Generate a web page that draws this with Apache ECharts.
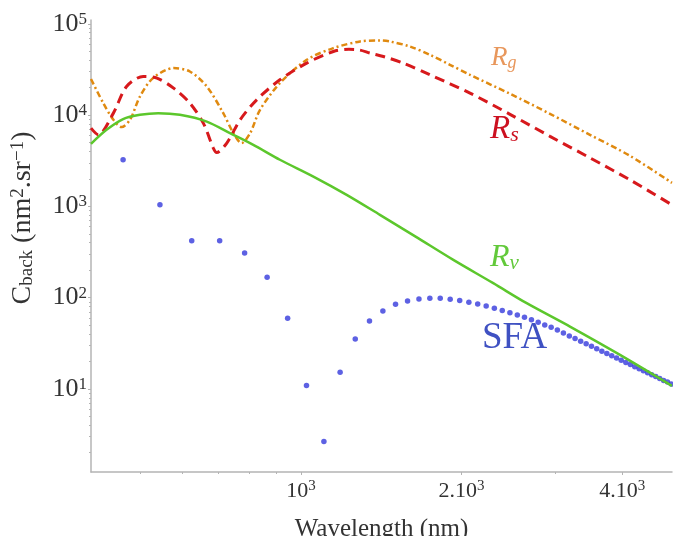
<!DOCTYPE html>
<html>
<head>
	<meta charset="utf-8">
	<title></title>
	<script src="https://cdn.jsdelivr.net/npm/echarts@6/dist/echarts.min.js"></script>
</head>

<body style="margin: 0;">
	<div id="main" style="width: 673px; height: 536px;"></div>
	<script>

		// wavelength (nm) / backscattering cross-section
		var rgWavelength = [404, 426, 445, 461, 478, 499, 528, 577, 619, 666, 715, 747, 774, 803, 838, 913, 1025, 1150, 1290, 1406, 1468, 1601, 1745, 1902, 2074, 2465, 2929, 3481, 4137, 4959]
		var rgValue      = [24800, 13520, 8870, 7380, 8870, 15960, 25400, 32700, 30000, 20560, 10500, 6340, 4930, 6340, 11420, 22390, 40320, 54200, 63970, 65600, 63970, 56360, 45710, 35560, 27600, 17100, 10320, 6076, 3576, 1809]

		var rsWavelength = [404, 417, 445, 471, 506, 537, 577, 619, 656, 685, 695, 726, 769, 826, 913, 1025, 1150, 1230, 1290, 1347, 1427, 1555, 1745, 2074, 2465, 2929, 3481, 4137, 4959]
		var rsValue      = [7200, 6080, 10500, 20560, 26470, 25400, 19720, 13520, 8170, 4345, 3890, 4930, 8870, 14690, 24320, 37070, 49730, 52500, 51500, 47760, 43850, 37070, 27600, 17400, 10190, 5850, 3401, 1950, 1039]

		var rvWavelength = [404, 432, 464, 499, 540, 593, 666, 736, 814, 913, 1055, 1218, 1406, 1643, 1930, 2293, 2649, 3193, 3963, 4959]
		var rvValue      = [4840, 6890, 9040, 10070, 10500, 10070, 8490, 6340, 4720, 3240, 2120, 1337, 807, 463, 259, 144, 86.9, 48.2, 23.6, 10.8]

		var sfaWavelength = [464, 544, 624, 704, 784, 864, 944, 1024, 1104, 1184, 1264, 1344, 1424, 1504, 1584, 1664, 1744, 1824, 1904, 1984,
		                     2064, 2144, 2224, 2304, 2384, 2464, 2544, 2624, 2704, 2784, 2864, 2944, 3024, 3104, 3184, 3264, 3344, 3424, 3504, 3584,
		                     3664, 3744, 3824, 3904, 3984, 4064, 4144, 4224, 4304, 4384, 4464, 4544, 4624, 4704, 4784, 4864, 4944]
		var sfaValue      = [3240, 1038, 419, 419, 309, 167, 59.6, 10.9, 2.65, 15.2, 35.3, 55.6, 71.6, 84.8, 92.0, 96.8, 98.6, 98.6, 96.1, 92.8,
		                     89.1, 85.4, 81.2, 76.6, 72.1, 68.5, 64.7, 61.1, 57.1, 53.8, 50.3, 47.4, 44.3, 40.9, 38.1, 35.6, 33.3, 31.2, 29.3, 27.5,
		                     25.9, 24.4, 23.1, 21.8, 20.6, 19.5, 18.5, 17.5, 16.6, 15.8, 15.0, 14.3, 13.7, 13.0, 12.4, 11.9, 11.3]

		// ticks
		var xMajorTicks = [1000, 2000, 4000]
		var xTickLabels = ['{b|10}{e|3}', '{b|2.10}{e|3}', '{b|4.10}{e|3}']
		var xMinorTicks = [500, 600, 700, 800, 900, 3000]
		var yMajorTicks = [10, 100, 1000, 10000, 100000]
		var yTickLabels = ['{b|10}{e|1}', '{b|10}{e|2}', '{b|10}{e|3}', '{b|10}{e|4}', '{b|10}{e|5}']
		var yMinorTicks = [2, 3, 4, 5, 6, 7, 8, 9,
		                   20, 30, 40, 50, 60, 70, 80, 90,
		                   200, 300, 400, 500, 600, 700, 800, 900,
		                   2000, 3000, 4000, 5000, 6000, 7000, 8000, 9000,
		                   20000, 30000, 40000, 50000, 60000, 70000, 80000, 90000]

		var xMin = 404, xMax = 4960
		var yMin = 1.23, yMax = 110000

		function zip(a, b) {
			return a.map(function (v, i) { return [v, b[i]] })
		}

		function pickLabel(ticks, labels, v) {
			var best = 0
			for (var i = 0; i < ticks.length; i++) {
				if (Math.abs(Math.log(ticks[i] / v)) < Math.abs(Math.log(ticks[best] / v))) best = i
			}
			return labels[best]
		}

		var serif = '"Liberation Serif", "DejaVu Serif", serif'
		var axisGray = '#b4b4b4'

		var mCharts = echarts.init(document.getElementById('main'))

		var opt = {
			animation: false,
			grid: { left: 91, right: 1, top: 20, bottom: 64, containLabel: false, outerBoundsMode: 'none' },
			xAxis: [
				{
					type: 'log', min: xMin, max: xMax, position: 'bottom',
					name: 'Wavelength (nm)', nameLocation: 'middle', nameGap: 45,
					nameTextStyle: { fontFamily: serif, fontSize: 25, color: '#333' },
					axisLine: { lineStyle: { color: axisGray, width: 1.5 } },
					axisTick: { customValues: xMajorTicks, length: 3, lineStyle: { color: axisGray } },
					axisLabel: {
						customValues: xMajorTicks, margin: 7,
						formatter: function (v) { return pickLabel(xMajorTicks, xTickLabels, v) },
						rich: {
							b: { fontFamily: serif, fontSize: 22, color: '#333', lineHeight: 24 },
							e: { fontFamily: serif, fontSize: 15, color: '#333', lineHeight: 15, verticalAlign: 'top' }
						}
					},
					splitLine: { show: false }, minorTick: { show: false }
				},
				{
					type: 'log', min: xMin, max: xMax, position: 'bottom',
					axisLine: { show: false },
					axisTick: { customValues: xMinorTicks, length: 2, lineStyle: { color: axisGray } },
					axisLabel: { show: false },
					splitLine: { show: false }
				}
			],
			yAxis: [
				{
					type: 'log', min: yMin, max: yMax, position: 'left',
					name: 'C{sub|back} (nm{sup|2}.sr{sup|\u22121})', nameLocation: 'middle', nameGap: 54, nameRotate: 90,
					nameTextStyle: {
						fontFamily: serif, fontSize: 28, color: '#333', padding: [0, 0, 0, 56],
						rich: {
							sub: { fontFamily: serif, fontSize: 19, color: '#333', verticalAlign: 'bottom', lineHeight: 17 },
							sup: { fontFamily: serif, fontSize: 19, color: '#333', verticalAlign: 'top', lineHeight: 17 }
						}
					},
					axisLine: { show: true, lineStyle: { color: axisGray, width: 1.5 } },
					axisTick: { show: true, customValues: yMajorTicks, length: 3, lineStyle: { color: axisGray } },
					axisLabel: {
						customValues: yMajorTicks, margin: 4,
						formatter: function (v) { return pickLabel(yMajorTicks, yTickLabels, v) },
						rich: {
							b: { fontFamily: serif, fontSize: 26, color: '#333', lineHeight: 26 },
							e: { fontFamily: serif, fontSize: 17, color: '#333', lineHeight: 16, verticalAlign: 'top' }
						}
					},
					splitLine: { show: false }
				},
				{
					type: 'log', min: yMin, max: yMax, position: 'left',
					axisLine: { show: false },
					axisTick: { show: true, customValues: yMinorTicks, length: 2, lineStyle: { color: axisGray } },
					axisLabel: { show: false },
					splitLine: { show: false }
				}
			],
			series: [
				{
					type: 'line', name: 'Rg', data: zip(rgWavelength, rgValue),
					showSymbol: false, smooth: 0.3,
					lineStyle: { color: '#e08a10', width: 2.5, type: [6, 3, 2, 3] }
				},
				{
					type: 'line', name: 'Rs', data: zip(rsWavelength, rsValue),
					showSymbol: false, smooth: 0.3,
					lineStyle: { color: '#d7191c', width: 3, type: [10, 6] }
				},
				{
					type: 'line', name: 'Rv', data: zip(rvWavelength, rvValue),
					showSymbol: false, smooth: 0.3,
					lineStyle: { color: '#5cc72c', width: 2.5 }
				},
				{
					type: 'scatter', name: 'SFA', data: zip(sfaWavelength, sfaValue),
					symbol: 'circle', symbolSize: 5.5,
					itemStyle: { color: '#3539dc' }
				}
			],
			graphic: [
				{
					type: 'text', x: 491, y: 44,
					style: {
						text: '{r|R}{s|g}', fill: '#e8975c',
						rich: {
							r: { fontFamily: serif, fontStyle: 'italic', fontSize: 27, fill: '#e8975c', lineHeight: 28 },
							s: { fontFamily: serif, fontStyle: 'italic', fontSize: 18, fill: '#e8975c', lineHeight: 14, verticalAlign: 'bottom' }
						}
					}
				},
				{
					type: 'text', x: 490, y: 112,
					style: {
						text: '{r|R}{s|s}', fill: '#cc1020',
						rich: {
							r: { fontFamily: serif, fontStyle: 'italic', fontSize: 33, fill: '#cc1020', lineHeight: 34 },
							s: { fontFamily: serif, fontStyle: 'italic', fontSize: 22, fill: '#cc1020', lineHeight: 16, verticalAlign: 'bottom' }
						}
					}
				},
				{
					type: 'text', x: 490, y: 241,
					style: {
						text: '{r|R}{s|v}', fill: '#62c93a',
						rich: {
							r: { fontFamily: serif, fontStyle: 'italic', fontSize: 32, fill: '#62c93a', lineHeight: 33 },
							s: { fontFamily: serif, fontStyle: 'italic', fontSize: 21, fill: '#62c93a', lineHeight: 16, verticalAlign: 'bottom' }
						}
					}
				},
				{
					type: 'text', x: 482, y: 320,
					style: { text: 'SFA', fill: '#3f51c2', font: '37px ' + serif }
				}
			]
		}

		mCharts.setOption(opt)

	</script>

</body>
</html>
